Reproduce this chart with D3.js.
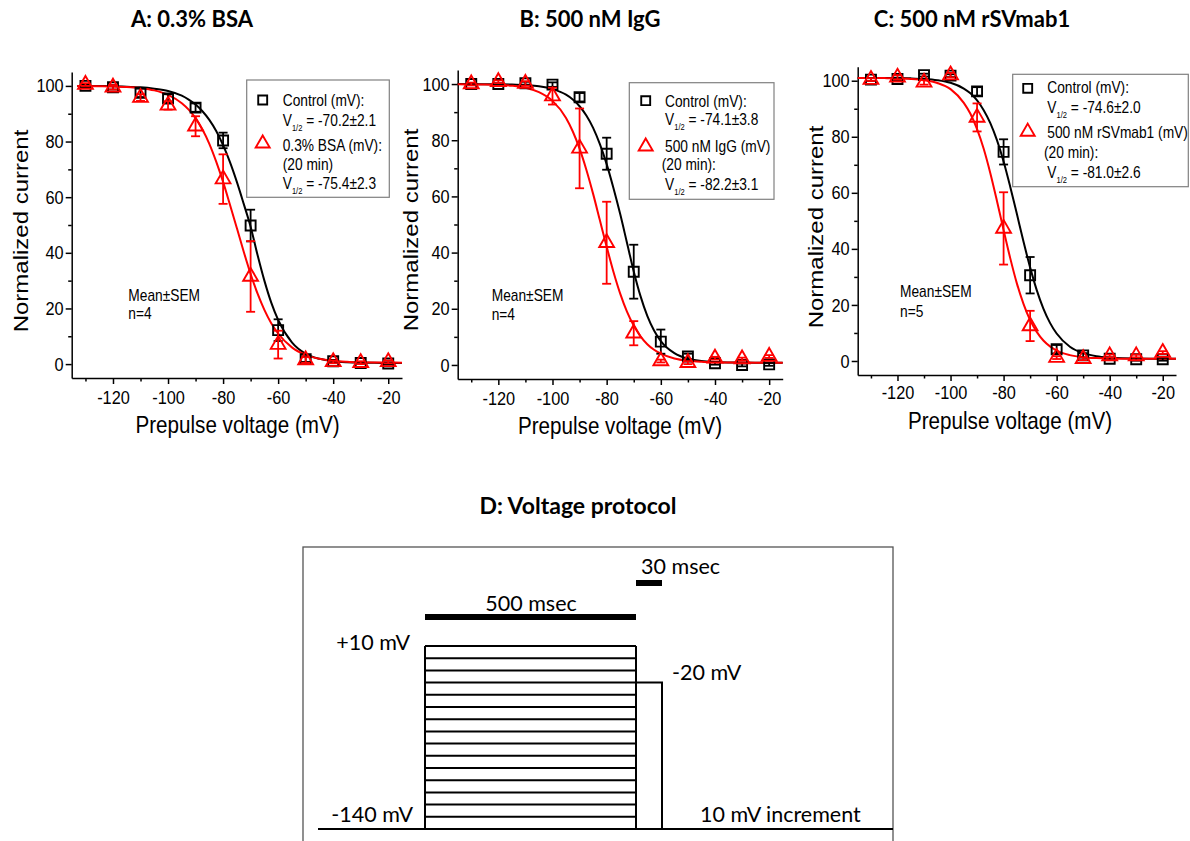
<!DOCTYPE html>
<html><head><meta charset="utf-8">
<script src="https://cdn.jsdelivr.net/npm/d3@7"></script>
<style>body{margin:0;background:#fff}svg{display:block}</style>
</head><body>
<svg id="c" width="1190" height="841"></svg>
<script>
// ---------- DATA ----------
const voltages = [-130,-120,-110,-100,-90,-80,-70,-60,-50,-40,-30,-20];
const xTickValues = [-120,-100,-80,-60,-40,-20];
const xTickLabels = ["-120","-100","-80","-60","-40","-20"];
const xMinorTicks = [-130,-110,-90,-70,-50,-30];
const yTickValues = [0,20,40,60,80,100];
const yTickLabels = ["0","20","40","60","80","100"];
const yMinorTicks = [10,30,50,70,90];

// Panel A
const ctrlA    = [100,99.5,97.5,95.5,92.2,80.4,49.8,12.2,1.8,1.0,0.4,0.2];
const ctrlAErr = [0.5,0.8,1.5,1.5,1.5,2.8,5.7,3.9,1.0,0.5,0.4,0.4];
const bsaA     = [100.5,99.5,95.8,93,85.5,66.5,31.5,7,1.5,0.8,0.5,0.8];
const bsaAErr  = [0.5,0.8,1.2,1.5,3.6,8.9,12.7,5.0,1.0,0.5,0.5,0.5];
// Panel B
const ctrlB    = [100,100,100.3,99.8,95.3,75.2,33.2,8.3,3.0,0.6,0,0.2];
const ctrlBErr = [0.3,0.3,0.5,0.8,1.5,5.7,9.6,4.3,1.0,0.5,0.5,0.5];
const iggB     = [100,100.8,100.2,95.7,77.1,43.5,11.3,1.4,0.8,2.4,2.1,3.0];
const iggBErr  = [0.5,0.5,0.8,3.0,14.2,14.6,4.3,0.5,0.5,0.5,0.5,0.5];
// Panel C
const ctrlC    = [100.4,100.6,102,101.8,96.2,74.6,30.6,4.2,2.0,0.8,0.6,0.6];
const ctrlCErr = [0.5,0.5,0.5,0.5,1.5,4.5,6.5,1.5,0.8,0.5,0.5,0.5];
const rsvC     = [100.4,101.2,99.4,102,86.9,47.3,12.5,1.2,0.8,1.8,1.8,3.0];
const rsvCErr  = [0.5,0.8,0.8,0.8,5.0,12.9,5.4,0.5,0.5,0.5,0.5,0.5];

// Fitted curves
const fitVoltsA  = [-133,-125,-120,-115,-110,-105,-100,-95,-92.5,-90,-87.5,-85,-82.5,-80,-77.5,-75,-72.5,-70,-67.5,-65,-62.5,-60,-55,-50,-45,-40,-35,-30,-25,-20,-15];
const fitVoltsBC = [-135,-125,-120,-115,-110,-105,-100,-95,-92.5,-90,-87.5,-85,-82.5,-80,-77.5,-75,-72.5,-70,-67.5,-65,-62.5,-60,-55,-50,-45,-40,-35,-30,-25,-20,-15];
const fitCtrlA = [100,99.95,99.87,99.7,99.5,99.0,98.2,96.5,95.1,93.3,90.9,87.8,83.8,78.7,72.6,65.5,57.6,49.4,39.3,30.0,22.1,15.9,7.8,3.7,1.9,1.05,0.68,0.52,0.45,0.42,0.41];
const fitBsaA  = [100,99.9,99.8,99.6,99.2,98.4,96.8,93.8,91.5,88.4,84.3,79.2,72.8,65.5,57.3,48.9,40.4,32.4,25.4,19.5,14.7,11.0,6.0,3.3,1.9,1.2,0.86,0.68,0.59,0.55,0.52];
const fitCtrlB = [100,99.96,99.9,99.8,99.6,99.2,98.2,96.2,94.5,92.1,88.8,84.4,78.6,71.5,63.0,53.7,43.5,33.3,24.5,17.5,12.3,8.5,4.2,2.2,1.4,1.05,0.9,0.84,0.82,0.8,0.8];
const fitIggB  = [99.97,99.86,99.7,99.4,98.7,97.1,94.0,87.9,83.1,77.0,69.5,60.9,51.5,42.1,33.2,25.4,19.0,14.0,10.2,7.4,5.4,4.0,2.3,1.5,1.13,0.95,0.87,0.83,0.81,0.8,0.8];
const fitCtrlC = [101,100.97,100.93,100.84,100.64,100.2,99.25,97.2,95.5,93.0,89.5,84.9,78.8,71.2,62.2,52.5,42.6,33.4,25.3,18.7,13.6,9.8,5.1,2.8,1.7,1.2,0.96,0.87,0.83,0.81,0.8];
const fitRsvC  = [101,100.93,100.85,100.65,100.2,99.2,97.0,92.1,88.2,82.7,75.7,67.0,57.1,46.7,36.7,27.7,20.4,14.6,10.4,7.3,5.2,3.7,2.1,1.37,1.05,0.9,0.84,0.82,0.81,0.8,0.8];

const titles = ["A: 0.3% BSA","B: 500 nM IgG","C: 500 nM rSVmab1"];
const legendA = ["Control (mV):","V|1/2| = -70.2±2.1","0.3% BSA (mV):","(20 min)","V|1/2| = -75.4±2.3"];
const legendB = ["Control (mV):","V|1/2| = -74.1±3.8","500 nM IgG (mV)","(20 min):","V|1/2| = -82.2±3.1"];
const legendC = ["Control (mV):","V|1/2| = -74.6±2.0","500 nM rSVmab1 (mV)","(20 min):","V|1/2| = -81.0±2.6"];
const statsA = ["Mean±SEM","n=4"], statsB = ["Mean±SEM","n=4"], statsC = ["Mean±SEM","n=5"];

// Protocol
const protoLevels = [10,0,-10,-20,-30,-40,-50,-60,-70,-80,-90,-100,-110,-120,-130,-140];
const holdingMV = -140, testMV = -20;

// ---------- DRAWING ----------
const svg = d3.select('#c');
const SX = 0.86;
const AR = "'Liberation Sans', Arial, sans-serif";
const TF = "Lato, 'Open Sans', sans-serif";

function txt(parent, x, y, s, size, opts = {}) {
  const t = parent.append('text')
    .attr('transform', `translate(${x},${y}) scale(${opts.sx ?? SX},1)` + (opts.rot ? ' rotate(-90)' : ''))
    .attr('font-family', opts.family || AR)
    .attr('font-size', size)
    .attr('font-weight', opts.weight || 'normal')
    .attr('text-anchor', opts.anchor || 'start')
    .attr('fill', '#000');
  const parts = s.split('|');
  if (parts.length === 3) {
    t.append('tspan').text(parts[0]);
    t.append('tspan').attr('font-size', size * 0.55).attr('dy', 5).text(parts[1]);
    t.append('tspan').attr('dy', -5).text(parts[2]);
  } else t.text(s);
  return t;
}

const xDomain = [-135, -15], yDomain = [-5, 105];

const panels = [
  {left:71.7,right:402,top:72,bottom:378, title:titles[0], tx:192, ctrl:ctrlA, ce:ctrlAErr, trt:bsaA, te:bsaAErr,
   fv:fitVoltsA, fc:fitCtrlA, ft:fitBsaA, legend:legendA,
   box:[246.7,80,142.6,117.3], mk:[262.7,100,262.7,143.5], lb:[106,125.5,150.5,170,189], lx2:[282.7,282.7,282.7,282.7,282.7],
   stats:statsA, sx:128.3, sb:[300.7,319.3], ytx:28, yty:231, xtx:237.5, xty:433, pad:7},
  {left:457.7,right:782.7,top:70,bottom:379, title:titles[1], tx:590, ctrl:ctrlB, ce:ctrlBErr, trt:iggB, te:iggBErr,
   fv:fitVoltsBC, fc:fitCtrlB, ft:fitIggB, legend:legendB,
   box:[629.3,82.7,144.7,116.6], mk:[645.7,100.7,645.7,146.5], lb:[106.7,125,151.7,170,190], lx2:[665,665,665,661.7,665],
   stats:statsB, sx:491.7, sb:[300.7,320], ytx:418, yty:230, xtx:620, xty:434, pad:7},
  {left:857.7,right:1176,top:66.7,bottom:375, title:titles[2], tx:972, ctrl:ctrlC, ce:ctrlCErr, trt:rsvC, te:rsvCErr,
   fv:fitVoltsBC, fc:fitCtrlC, ft:fitRsvC, legend:legendC,
   box:[1012.7,74.3,175.6,112.4], mk:[1027.7,88.3,1027.7,131.7], lb:[93.3,113.3,138.3,158.3,178.3], lx2:[1047.3,1047.3,1047.3,1044,1047.3],
   stats:statsC, sx:900, sb:[297.3,316.7], ytx:823, yty:227, xtx:1010, xty:429, pad:5}
];

const sq = d3.symbol().type(d3.symbolSquare).size(100);
const tri = d3.symbol().type(d3.symbolTriangle).size(95);
const sqL = d3.symbol().type(d3.symbolSquare).size(80);
const triL = d3.symbol().type(d3.symbolTriangle).size(85);

panels.forEach(p => {
  const g = svg.append('g');
  const x = d3.scaleLinear().domain(xDomain).range([p.left, p.right]);
  const y = d3.scaleLinear().domain(yDomain).range([p.bottom, p.top]);

  // title
  txt(g, p.tx, 27, p.title, 22, {family: TF, weight: 'bold', anchor: 'middle', sx: 1});

  // axes
  const xa = g.append('g').attr('transform', `translate(0,${p.bottom})`)
    .call(d3.axisBottom(x).tickValues(xTickValues).tickFormat((d,i) => xTickLabels[i]).tickSize(6).tickSizeOuter(0).tickPadding(p.pad));
  const xm = g.append('g').attr('transform', `translate(0,${p.bottom})`)
    .call(d3.axisBottom(x).tickValues(xMinorTicks).tickFormat('').tickSize(3.5).tickSizeOuter(0));
  const ya = g.append('g').attr('transform', `translate(${p.left},0)`)
    .call(d3.axisLeft(y).tickValues(yTickValues).tickFormat((d,i) => yTickLabels[i]).tickSize(6).tickSizeOuter(0).tickPadding(2));
  const ym = g.append('g').attr('transform', `translate(${p.left},0)`)
    .call(d3.axisLeft(y).tickValues(yMinorTicks).tickFormat('').tickSize(3.5).tickSizeOuter(0));
  [xm, ym].forEach(a => a.select('.domain').remove());
  [xa, xm, ya, ym].forEach(a => {
    a.selectAll('path,line').attr('stroke', '#000').attr('stroke-width', 1.5);
    a.selectAll('text').attr('font-size', 19).attr('font-family', AR).attr('fill', '#000');
  });
  xa.selectAll('text').attr('transform', `scale(${SX},1)`);
  ya.selectAll('text').attr('transform', `scale(${SX},1)`).attr('x', -8 / SX);

  // axis titles
  txt(g, p.ytx, p.yty, 'Normalized current', 24, {anchor: 'middle', rot: true});
  txt(g, p.xtx, p.xty, 'Prepulse voltage (mV)', 24, {anchor: 'middle'});

  // fits
  const line = d3.line().x((d, i) => x(p.fv[i])).y(d => y(d)).curve(d3.curveMonotoneX);
  g.append('path').attr('d', line(p.fc)).attr('fill', 'none').attr('stroke', '#000').attr('stroke-width', 2);
  g.append('path').attr('d', line(p.ft)).attr('fill', 'none').attr('stroke', '#f00').attr('stroke-width', 2);

  // series
  function series(vals, errs, color, sym) {
    const s = g.append('g');
    voltages.forEach((v, i) => {
      const cx = x(v), y1 = y(vals[i] - errs[i]), y2 = y(vals[i] + errs[i]);
      s.append('line').attr('x1', cx).attr('x2', cx).attr('y1', y1).attr('y2', y2);
      s.append('line').attr('x1', cx - 4.5).attr('x2', cx + 4.5).attr('y1', y1).attr('y2', y1);
      s.append('line').attr('x1', cx - 4.5).attr('x2', cx + 4.5).attr('y1', y2).attr('y2', y2);
      s.append('path').attr('d', sym()).attr('transform', `translate(${cx},${y(vals[i])})`).attr('fill', 'none');
    });
    s.selectAll('line').attr('stroke', color).attr('stroke-width', 1.8);
    s.selectAll('path').attr('stroke', color).attr('stroke-width', 1.9);
  }
  series(p.ctrl, p.ce, '#000', sq);
  series(p.trt, p.te, '#f00', tri);

  // legend
  g.append('rect').attr('x', p.box[0]).attr('y', p.box[1]).attr('width', p.box[2]).attr('height', p.box[3])
    .attr('fill', '#fff').attr('stroke', '#808080').attr('stroke-width', 1.2);
  g.append('path').attr('d', sqL()).attr('transform', `translate(${p.mk[0]},${p.mk[1]})`).attr('fill', 'none').attr('stroke', '#000').attr('stroke-width', 1.9);
  g.append('path').attr('d', triL()).attr('transform', `translate(${p.mk[2]},${p.mk[3]})`).attr('fill', 'none').attr('stroke', '#f00').attr('stroke-width', 1.9);
  p.legend.forEach((s, i) => txt(g, p.lx2[i], p.lb[i], s, 16));

  // stats
  p.stats.forEach((s, i) => txt(g, p.sx, p.sb[i], s, 16));
});

// ---------- Panel D: voltage protocol ----------
const D = svg.append('g');
txt(D, 578, 514, 'D: Voltage protocol', 23, {family: TF, weight: 'bold', anchor: 'middle', sx: 1});
D.append('rect').attr('x', 303).attr('y', 547).attr('width', 590).attr('height', 320)
  .attr('fill', 'none').attr('stroke', '#555').attr('stroke-width', 1.3);

// phase boundaries: start, prepulse on, prepulse off, test off, end
const tS = d3.scaleLinear().domain([0, 1, 2, 3, 4]).range([318, 425, 636, 662, 893]);
const vS = d3.scaleLinear().domain([holdingMV, 10]).range([829, 646]);
const pl = D.append('g').attr('stroke', '#000').attr('stroke-width', 2).attr('fill', 'none');
protoLevels.forEach(v => {
  pl.append('line').attr('x1', tS(1)).attr('x2', tS(2)).attr('y1', vS(v)).attr('y2', vS(v));
});
const pline = d3.line().x(d => tS(d[0])).y(d => vS(d[1]));
pl.append('path').attr('d', pline([[0, holdingMV], [1, holdingMV], [1, 10]]));
pl.append('path').attr('d', pline([[2, 10], [2, holdingMV], [4, holdingMV]]));
pl.append('path').attr('d', pline([[2, testMV], [3, testMV], [3, holdingMV]]));
// duration bars
D.append('rect').attr('x', tS(1)).attr('y', 614).attr('width', tS(2) - tS(1)).attr('height', 6).attr('fill', '#000');
D.append('rect').attr('x', tS(2)).attr('y', 580).attr('width', tS(3) - tS(2)).attr('height', 6).attr('fill', '#000');
txt(D, 531, 611, '500 msec', 21.5, {family: TF, anchor: 'middle', sx: 1});
txt(D, 641, 574, '30 msec', 21.5, {family: TF, sx: 1});
txt(D, 410, 650, '+10 mV', 21.5, {family: TF, anchor: 'end', sx: 1});
txt(D, 672, 680, '-20 mV', 21.5, {family: TF, sx: 1});
txt(D, 413, 822, '-140 mV', 21.5, {family: TF, anchor: 'end', sx: 1});
txt(D, 700, 822, '10 mV increment', 21.5, {family: TF, sx: 1});
</script>
</body></html>
